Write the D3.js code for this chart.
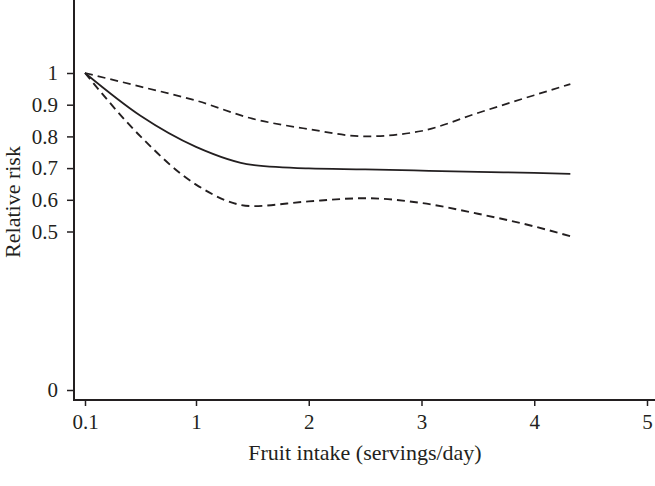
<!DOCTYPE html>
<html>
<head>
<meta charset="utf-8">
<script src="https://cdn.jsdelivr.net/npm/d3@7"></script>
<style>
  body { margin: 0; background: #fff; }
  svg { display: block; }
  .axis text { font-family: "Liberation Serif", "DejaVu Serif", serif; font-size: 21px; fill: #231f20; }
  .axis line { stroke: #231f20; stroke-width: 1.5; }
  .axis-title { font-family: "Liberation Serif", "DejaVu Serif", serif; font-size: 22px; fill: #231f20; }
</style>
</head>
<body>
<div id="chart"></div>
<script>
const intake = [0.1, 0.55, 1, 1.5, 2, 2.5, 3, 3.5, 4, 4.32];
const estimate = [1, 0.865, 0.767, 0.71, 0.699, 0.696, 0.692, 0.688, 0.685, 0.682];
const upperCI = [1, 0.957, 0.913, 0.856, 0.823, 0.8, 0.817, 0.874, 0.93, 0.965];
const lowerCI = [1, 0.80, 0.648, 0.58, 0.595, 0.605, 0.59, 0.556, 0.516, 0.485];

const xTicks = [0.1, 1, 2, 3, 4, 5];
const yTicks = [0, 0.5, 0.6, 0.7, 0.8, 0.9, 1];

const width = 655, height = 486;
const axisLeftX = 74, axisBottomY = 400;
const ink = "#231f20";

const svg = d3.select("#chart").append("svg")
  .attr("width", width)
  .attr("height", height);

// scales (x is piecewise, the first tick sits right at the curve start)
const x = d3.scaleLinear()
  .domain([0.1, 1, 5])
  .range([85, 196, 647]);
const y = d3.scaleLinear()
  .domain([0, 1])
  .range([390, 73]);

//
// Axes
//
const yAxis = svg.append("g")
  .attr("class", "axis")
  .attr("transform", `translate(${axisLeftX},0)`)
  .call(d3.axisLeft(y).tickValues(yTicks).tickFormat(d => d3.format("")(d)).tickSize(7).tickSizeOuter(0).tickPadding(9));
yAxis.select(".domain").remove();

const xAxis = svg.append("g")
  .attr("class", "axis")
  .attr("transform", `translate(0,${axisBottomY})`)
  .call(d3.axisBottom(x).tickValues(xTicks).tickFormat(d => d3.format("")(d)).tickSize(6).tickSizeOuter(0).tickPadding(8));
xAxis.select(".domain").remove();

svg.append("line")
  .attr("x1", axisLeftX).attr("x2", axisLeftX)
  .attr("y1", 0).attr("y2", axisBottomY)
  .attr("stroke", ink).attr("stroke-width", 2);
svg.append("line")
  .attr("x1", axisLeftX - 1).attr("x2", width)
  .attr("y1", axisBottomY).attr("y2", axisBottomY)
  .attr("stroke", ink).attr("stroke-width", 2);

//
// Lines
//
const line = d3.line()
  .x(d => x(d[0]))
  .y(d => y(d[1]))
  .curve(d3.curveMonotoneX);

const series = [
  { values: estimate, dash: null, w: 1.7 },
  { values: upperCI, dash: "8,5", w: 1.7 },
  { values: lowerCI, dash: "8,5", w: 1.9 }
];

svg.selectAll(".rr-line")
  .data(series)
  .enter().append("path")
  .attr("class", "rr-line")
  .attr("fill", "none")
  .attr("stroke", ink)
  .attr("stroke-width", d => d.w)
  .attr("stroke-dasharray", d => d.dash)
  .attr("d", d => line(d3.zip(intake, d.values)));

//
// Titles
//
svg.append("text")
  .attr("class", "axis-title")
  .attr("x", 365)
  .attr("y", 460)
  .attr("text-anchor", "middle")
  .text("Fruit intake (servings/day)");

svg.append("text")
  .attr("class", "axis-title")
  .attr("transform", "translate(20,202) rotate(-90)")
  .attr("text-anchor", "middle")
  .text("Relative risk");
</script>
</body>
</html>
